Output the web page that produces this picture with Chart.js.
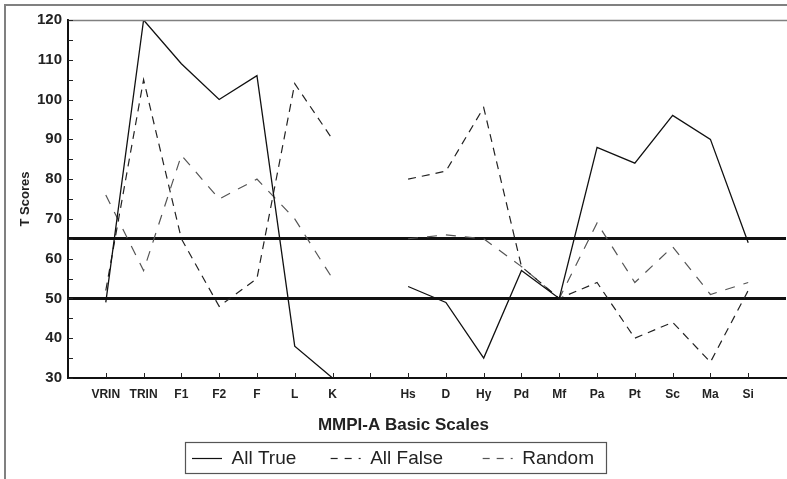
<!DOCTYPE html>
<html>
<head>
<meta charset="utf-8">
<script src="https://cdn.jsdelivr.net/npm/chart.js@4.4.0/dist/chart.umd.min.js"></script>
<style>
body{margin:0;background:#fff;}
#wrap{width:787px;height:479px;position:relative;}
</style>
</head>
<body>
<div id="wrap"><canvas id="chart1"></canvas></div>
<script>
// scale names, blanks pad the ends and split validity from clinical scales
var scales=['','VRIN','TRIN','F1','F2','F','L','K','','Hs','D','Hy','Pd','Mf','Pa','Pt','Sc','Ma','Si',''];
var allTrue=[null,49,120,109,100,106,38,30,null,53,49,35,57,50,88,84,96,90,64,null];
var allFalse=[null,52,105,65,48,55,104,90,null,80,82,98,58,50,54,40,44,34,52,null];
var random=[null,76,57,86,75,80,70,55,null,65,66,65,58,50,69,54,63,51,54,null];
var cutLines=[65,50];

var fontName="'Liberation Sans', Arial, Helvetica, sans-serif";

function isCut(v){
	for(var i=0;i<cutLines.length;i++){
		if(Math.abs(v-cutLines[i])<0.01){return true;}
	}
	return false;
}

// frame, inward ticks and legend box
var extras={
	id:'extras',
	afterDraw:function(chart){
		var ctx=chart.ctx;
		var area=chart.chartArea;
		var xs=chart.scales.x, ys=chart.scales.y;
		ctx.save();
		ctx.setLineDash([]);
		ctx.strokeStyle='#808080';
		ctx.lineWidth=2;
		ctx.beginPath();
		ctx.moveTo(5,chart.height);ctx.lineTo(5,5);ctx.lineTo(chart.width,5);
		ctx.stroke();
		ctx.lineWidth=1.5;
		ctx.beginPath();
		ctx.moveTo(area.left,area.top+0.5);ctx.lineTo(chart.width,area.top+0.5);
		ctx.stroke();
		ctx.strokeStyle='#222';
		ctx.lineWidth=1;
		ys.ticks.forEach(function(t){
			var y=Math.round(ys.getPixelForValue(t.value))+0.5;
			ctx.beginPath();ctx.moveTo(area.left,y);ctx.lineTo(area.left+5,y);ctx.stroke();
		});
		for(var i=1;i<scales.length-1;i++){
			var x=Math.round(xs.getPixelForValue(i))+0.5;
			ctx.beginPath();ctx.moveTo(x,area.bottom);ctx.lineTo(x,area.bottom-5);ctx.stroke();
		}
		var hb=chart.legend.legendHitBoxes;
		if(hb&&hb.length){
			var l=hb[0].left-7, r=hb[hb.length-1].left+hb[hb.length-1].width+12;
			var t=hb[0].top-7, b=hb[0].top+hb[0].height+5;
			ctx.strokeStyle='#555';
			ctx.lineWidth=1.2;
			ctx.strokeRect(Math.round(l)+0.5,Math.round(t)+0.5,Math.round(r-l),Math.round(b-t));
		}
		ctx.restore();
	}
};

var myChart=new Chart(document.getElementById('chart1').getContext('2d'),{
	type:'line',
	data:{
		labels:scales,
		datasets:[{
			label:'All True     ',
			data:allTrue,
			borderColor:'#111',
			borderWidth:1.3,
			fill:false
		},{
			label:'All False      ',
			data:allFalse,
			borderColor:'#222',
			borderWidth:1.2,
			borderDash:[8,6],
			fill:false
		},{
			label:'Random',
			data:random,
			borderColor:'#555',
			borderWidth:1.2,
			borderDash:[10,9],
			fill:false
		}]
	},
	plugins:[extras],
	options:{
		responsive:true,
		maintainAspectRatio:false,
		animation:false,
		spanGaps:false,
		elements:{point:{radius:0},line:{tension:0}},
		layout:{padding:{left:0,top:20,right:1,bottom:1}},
		plugins:{
			tooltip:{enabled:false},
			legend:{
				position:'bottom',
				labels:{
					usePointStyle:true,
					pointStyle:'line',
					pointStyleWidth:30,
					padding:8,
					color:'#222',
					font:{family:fontName,size:19},
					generateLabels:function(chart){
						return chart.data.datasets.map(function(ds,i){
							var dash=ds.borderDash?[7,7]:[];
							return {
								text:ds.label,
								fillStyle:'rgba(0,0,0,0)',
								strokeStyle:ds.borderColor,
								lineWidth:1.2,
								lineDash:dash,
								pointStyle:'line',
								fontColor:'#222',
								hidden:false,
								datasetIndex:i
							};
						});
					}
				}
			}
		},
		scales:{
			x:{
				type:'category',
				offset:false,
				grid:{display:false,drawTicks:false},
				border:{color:'#111',width:2},
				ticks:{
					autoSkip:false,
					maxRotation:0,
					padding:9,
					color:'#222',
					font:{family:fontName,size:12,weight:'bold'}
				},
				title:{
					display:true,
					text:'MMPI-A Basic Scales          ',
					color:'#222',
					padding:{top:0,bottom:5},
					font:{family:fontName,size:17,weight:'bold'}
				},
				afterFit:function(s){s.height=63;s.paddingRight=0;s.paddingLeft=0;}
			},
			y:{
				min:30,
				max:120,
				grid:{
					drawTicks:false,
					color:function(c){return isCut(c.tick.value)?'#111':'rgba(0,0,0,0)';},
					lineWidth:function(c){return isCut(c.tick.value)?3:1;}
				},
				border:{color:'#111',width:2},
				ticks:{
					stepSize:5,
					autoSkip:false,
					padding:6,
					color:'#222',
					font:{family:fontName,size:15,weight:'bold'},
					callback:function(v){return v%10===0?v:'';}
				},
				title:{
					display:true,
					text:'T Scores',
					color:'#222',
					padding:{top:18,bottom:0},
					font:{family:fontName,size:13,weight:'bold'}
				},
				afterFit:function(s){s.width=68;}
			}
		}
	}
});
</script>
</body>
</html>
